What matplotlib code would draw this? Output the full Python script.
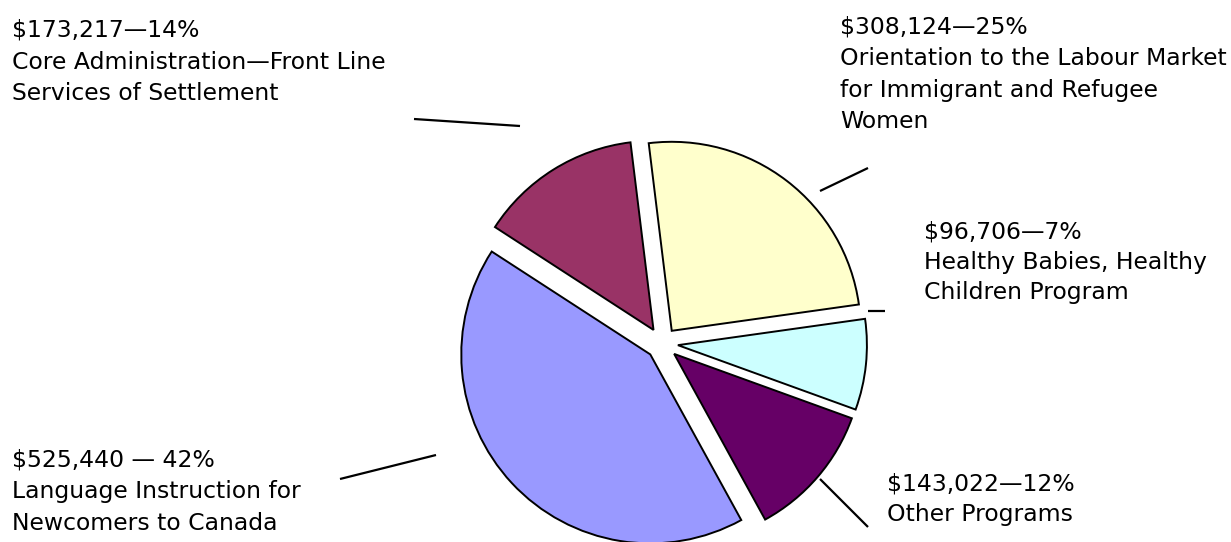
import matplotlib
matplotlib.use("Agg")
import matplotlib.pyplot as plt

# ---- data ----
programs = [
    "Orientation to the Labour Market\nfor Immigrant and Refugee\nWomen",
    "Healthy Babies, Healthy\nChildren Program",
    "Other Programs",
    "Language Instruction for\nNewcomers to Canada",
    "Core Administration\u2014Front Line\nServices of Settlement",
]
amounts = [308124, 96706, 143022, 525440, 173217]
amount_labels = [
    "$308,124\u201425%",
    "$96,706\u20147%",
    "$143,022\u201412%",
    "$525,440 \u2014 42%",
    "$173,217\u201414%",
]
colors = ["#FFFFCC", "#CCFFFF", "#660066", "#9999FF", "#993366"]

# ---- layout (pixel space, y measured from top) ----
W, H = 1231, 542
CENTER = (662, 343.5)
RADIUS = 189
EXPLODE = 16
START = 97
FONT_PT = 16.9
LINE_PX = 31.5

# label first-baseline positions (x left, y baseline of first line)
label_pos = [(840, 33.5), (924, 238), (887, 490.5), (12, 466.5), (12, 37)]
label_spacing = [31.5, 30.5, 31.0, 31.5, 31.7]
# leader lines
leaders = [
    ((820, 191), (868, 168)),
    ((868, 311), (885, 311)),
    ((820, 479), (868, 527)),
    ((436, 455), (340, 479)),
    ((520, 126), (414, 119)),
]

fig = plt.figure(figsize=(W / 100, H / 100), dpi=100)
ax = fig.add_axes([0, 0, 1, 1])

ax.pie(
    amounts,
    colors=colors,
    startangle=START,
    counterclock=False,
    center=(CENTER[0], H - CENTER[1]),
    radius=RADIUS,
    explode=[EXPLODE] * len(amounts),
    wedgeprops=dict(edgecolor="black", linewidth=1.4),
)
ax.set_xlim(0, W)
ax.set_ylim(0, H)
ax.set_aspect("equal")
ax.axis("off")

for (p0, p1) in leaders:
    ax.plot([p0[0], p1[0]], [H - p0[1], H - p1[1]], color="black", lw=1.6,
            solid_capstyle="butt")

for name, amt, (x, y), sp in zip(programs, amount_labels, label_pos, label_spacing):
    lines = [amt] + name.split("\n")
    for i, ln in enumerate(lines):
        ax.text(x, H - (y + i * sp), ln, fontsize=FONT_PT,
                family="DejaVu Sans", ha="left", va="baseline", color="black")

fig.savefig("out.png", dpi=100)
